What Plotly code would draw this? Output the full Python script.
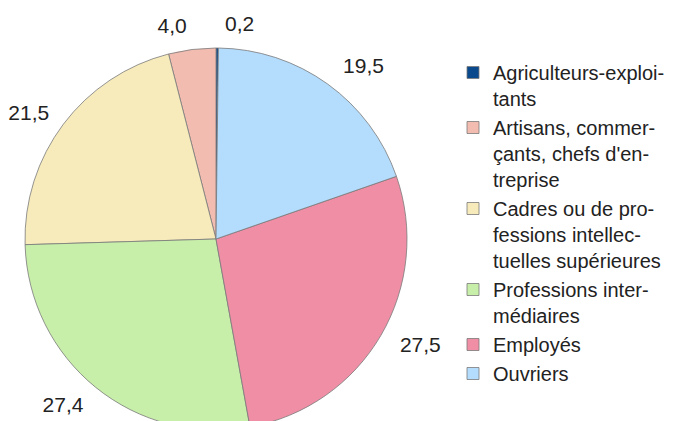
import plotly.graph_objects as go

# categories socio-professionnelles (ordre de la légende)
categories = [
    "Agriculteurs-exploi-<br>tants",
    "Artisans, commer-<br>çants, chefs d'en-<br>treprise",
    "Cadres ou de pro-<br>fessions intellec-<br>tuelles supérieures",
    "Professions inter-<br>médiaires",
    "Employés",
    "Ouvriers",
]
valeurs = [0.2, 4.0, 21.5, 27.4, 27.5, 19.5]
couleurs = ["#0a4a8c", "#f2bcb0", "#f7ebbc", "#c8efaa", "#f08ea6", "#b4dcfc"]

W, H = 680, 450  # page coupée à 421 px par la fenêtre


def dom(left, top, right, bottom):
    return dict(x=[left / W, right / W], y=[1 - bottom / H, 1 - top / H])


fig = go.Figure()

# camembert visible
fig.add_trace(go.Pie(
    labels=categories,
    values=valeurs,
    sort=False,
    direction="counterclockwise",
    marker=dict(colors=couleurs, line=dict(color="#7a7a7a", width=0.8)),
    textposition="none",
    domain=dom(25, 48, 407, 430),
    hoverinfo="label+value",
))

# même camembert, transparent et un peu plus grand, qui porte les étiquettes
fig.add_trace(go.Pie(
    labels=categories,
    values=valeurs,
    sort=False,
    direction="counterclockwise",
    marker=dict(colors=["rgba(0,0,0,0)"] * len(valeurs), line=dict(width=0)),
    texttemplate="%{value:.1f}",
    textposition="outside",
    textfont=dict(size=21, color="#222222", family="Liberation Sans"),
    domain=dom(14, 35, 422, 443),
    hoverinfo="skip",
    showlegend=False,
))

fig.update_layout(
    width=W,
    height=H,
    margin=dict(l=0, r=0, t=0, b=0),
    separators=", ",
    paper_bgcolor="white",
    font=dict(family="Liberation Sans", size=20, color="#222222"),
    showlegend=True,
    legend=dict(
        x=453 / W, y=1 - 53 / H, xanchor="left", yanchor="top",
        font=dict(size=20, color="#222222"),
        valign="top",
        bgcolor="rgba(0,0,0,0)",
    ),
)

fig.write_html("out.html", config={"displayModeBar": False},
               post_script="document.body.style.margin='0';document.body.style.overflow='hidden';")
